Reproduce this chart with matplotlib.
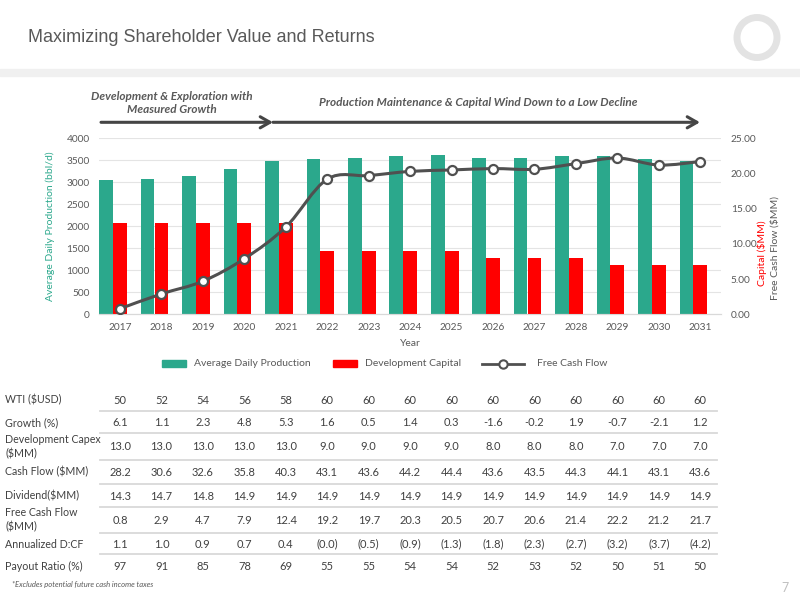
import numpy as np
import matplotlib
matplotlib.use("Agg")
import matplotlib.pyplot as plt
from matplotlib.path import Path
from matplotlib.patches import PathPatch, Circle, Rectangle, FancyArrowPatch
from matplotlib.lines import Line2D
from matplotlib import transforms

# ---- data ----
years = [2017, 2018, 2019, 2020, 2021, 2022, 2023, 2024, 2025, 2026, 2027, 2028, 2029, 2030, 2031]
production = [3050, 3080, 3150, 3295, 3475, 3535, 3550, 3600, 3620, 3560, 3550, 3600, 3600, 3520, 3490]
dev_capital = [13.0, 13.0, 13.0, 13.0, 13.0, 9.0, 9.0, 9.0, 9.0, 8.0, 8.0, 8.0, 7.0, 7.0, 7.0]
free_cash_flow = [0.8, 2.9, 4.7, 7.9, 12.4, 19.2, 19.7, 20.3, 20.5, 20.7, 20.6, 21.4, 22.2, 21.2, 21.7]

wti = [50, 52, 54, 56, 58, 60, 60, 60, 60, 60, 60, 60, 60, 60, 60]
growth = [6.1, 1.1, 2.3, 4.8, 5.3, 1.6, 0.5, 1.4, 0.3, -1.6, -0.2, 1.9, -0.7, -2.1, 1.2]
cash_flow = [28.2, 30.6, 32.6, 35.8, 40.3, 43.1, 43.6, 44.2, 44.4, 43.6, 43.5, 44.3, 44.1, 43.1, 43.6]
dividend = [14.3, 14.7, 14.8, 14.9, 14.9, 14.9, 14.9, 14.9, 14.9, 14.9, 14.9, 14.9, 14.9, 14.9, 14.9]
d_to_cf = [1.1, 1.0, 0.9, 0.7, 0.4, -0.0, -0.5, -0.9, -1.3, -1.8, -2.3, -2.7, -3.2, -3.7, -4.2]
payout = [97, 91, 85, 78, 69, 55, 55, 54, 54, 52, 53, 52, 50, 51, 50]

left_ticks = [0, 500, 1000, 1500, 2000, 2500, 3000, 3500, 4000]
right_ticks = [0, 5, 10, 15, 20, 25]

TEAL = "#2BA88C"
RED = "#FF0000"
GREY = "#595959"
DARK = "#404040"
LINE = "#505050"

plt.rcParams["font.family"] = ["Lato", "DejaVu Sans"]

W, H = 800, 600
fig = plt.figure(figsize=(8, 6), dpi=100)


def fx(px):
    return px / W


def fy(py):
    return 1 - py / H


# header band, title and logo ring
fig.patches.append(Rectangle((0, fy(76)), 1, fy(69) - fy(76), transform=fig.transFigure,
                             color="#F0F0F0", zorder=0))
fig.text(fx(28), fy(42), "Maximizing Shareholder Value and Returns", fontsize=13,
         color=GREY, family=["Liberation Sans", "DejaVu Sans"], va="baseline")
fig.patches.append(Circle((7.57, 6 - 0.375), 0.20, transform=fig.dpi_scale_trans,
                          fill=False, ec="#E3E3E3", lw=5))

# chart axes
x = np.arange(len(years))
ax = fig.add_axes([fx(99.3), fy(314.3), fx(721) - fx(99.3), fy(138.3) - fy(314.3)])
ax2 = ax.twinx()

ax.bar(x - 0.335, production, width=0.33, color=TEAL, zorder=2)
ax2.bar(x, dev_capital, width=0.335, color=RED, zorder=2)

# smoothed free cash flow line (cubic bezier through the points)
pts = np.column_stack([x, free_cash_flow]).astype(float)
verts = [pts[0]]
codes = [Path.MOVETO]
for i in range(len(pts) - 1):
    p0 = pts[max(i - 1, 0)]
    p1 = pts[i]
    p2 = pts[i + 1]
    p3 = pts[min(i + 2, len(pts) - 1)]
    verts += [p1 + (p2 - p0) / 6, p2 - (p3 - p1) / 6, p2]
    codes += [Path.CURVE4] * 3
ax2.add_patch(PathPatch(Path(verts, codes), fill=False, ec=LINE, lw=2.2, zorder=3))
ax2.plot(x, free_cash_flow, ls="none", marker="o", ms=6.5, mfc="white", mec=LINE,
         mew=1.6, zorder=4)

ax.set_xlim(-0.5, len(years) - 0.5)
ax.set_ylim(0, 4000)
ax2.set_ylim(0, 25)
ax.set_yticks(left_ticks)
ax2.set_yticks(right_ticks)
ax2.set_yticklabels([f"{t:.2f}" for t in right_ticks])
ax.set_xticks(x)
ax.set_xticklabels([str(y) for y in years])
ax.grid(axis="y", color="#E4E4E4", lw=0.8, zorder=0)
ax.set_axisbelow(True)
for a in (ax, ax2):
    for s in ("top", "left", "right"):
        a.spines[s].set_visible(False)
    a.spines["bottom"].set_color("#D9D9D9")
    a.tick_params(length=0, labelsize=7.3, labelcolor=GREY)
ax.tick_params(axis="y", pad=7)
ax.tick_params(axis="x", pad=6)
ax2.tick_params(axis="y", pad=7)

ax.set_ylabel("Average Daily Production (bbl/d)", color=TEAL, fontsize=7.5)
ax.yaxis.set_label_coords(-0.071, 0.5)
ax.set_xlabel("Year", color=GREY, fontsize=7.5, labelpad=5)
fig.text(fx(762), fy(253), "Capital ($MM)", rotation=90, color=RED, fontsize=7.5,
         ha="center", va="center")
fig.text(fx(775), fy(248), "Free Cash Flow ($MM)", rotation=90, color=GREY, fontsize=7.5,
         ha="center", va="center")

# phase annotations and arrows
fig.text(fx(172), fy(103), "Development & Exploration with\nMeasured Growth", ha="center",
         va="center", fontsize=8.5, color=GREY, style="italic", weight="bold", linespacing=1.25)
fig.text(fx(478), fy(103), "Production Maintenance & Capital Wind Down to a Low Decline",
         ha="center", va="center", fontsize=8.5, color=GREY, style="italic", weight="bold")
for x0, x1 in [(101, 273), (273, 700)]:
    fig.patches.append(FancyArrowPatch(
        (fx(x0), fy(122.3)), (fx(x1), fy(122.3)), transform=fig.transFigure,
        arrowstyle="->,head_length=7,head_width=4", color="#454545", lw=2.2,
        mutation_scale=1, shrinkA=0, shrinkB=0))

# legend drawn by hand to match the slide spacing
ly = fy(363.5)
fig.patches.append(Rectangle((fx(162), ly - 3.5 / H), 24 / W, 7 / H, transform=fig.transFigure,
                             color=TEAL))
fig.text(fx(194), ly, "Average Daily Production", fontsize=7.5, color=GREY, va="center")
fig.patches.append(Rectangle((fx(333), ly - 3.5 / H), 24 / W, 7 / H, transform=fig.transFigure,
                             color=RED))
fig.text(fx(365), ly, "Development Capital", fontsize=7.5, color=GREY, va="center")
fig.add_artist(Line2D([fx(482), fx(524)], [ly, ly], transform=fig.transFigure, color=LINE, lw=2))
fig.add_artist(Line2D([fx(503)], [ly], transform=fig.transFigure, marker="o", ms=6,
                      mfc="white", mec=LINE, mew=1.5))
fig.text(fx(537), ly, "Free Cash Flow", fontsize=7.5, color=GREY, va="center")


# table
def fmt1(v):
    return f"{v:.1f}"


def fmt_paren(v):
    if np.signbit(v):
        return f"({abs(v):.1f})"
    return f"{v:.1f}"


rows = [
    ("WTI ($USD)", [str(v) for v in wti], 400),
    ("Growth (%)", [fmt1(v) for v in growth], 423),
    ("Development Capex\n($MM)", [fmt1(v) for v in dev_capital], 447),
    ("Cash Flow ($MM)", [fmt1(v) for v in cash_flow], 472),
    ("Dividend($MM)", [fmt1(v) for v in dividend], 496),
    ("Free Cash Flow\n($MM)", [fmt1(v) for v in free_cash_flow], 520),
    ("Annualized D:CF", [fmt_paren(v) for v in d_to_cf], 544),
    ("Payout Ratio (%)", [str(v) for v in payout], 566),
]
sep_lines = [410.7, 433, 460, 484, 507, 533, 554]

blend = transforms.blended_transform_factory(ax.transData, fig.transFigure)
for label, vals, py in rows:
    fig.text(fx(5), fy(py), label, ha="left", va="center", fontsize=7.7, color=DARK,
             linespacing=1.35)
    for i, s in enumerate(vals):
        ax.text(x[i], fy(py), s, transform=blend, ha="center", va="center", fontsize=8,
                color=DARK, clip_on=False)
for py in sep_lines:
    fig.add_artist(Line2D([fx(100), fx(717)], [fy(py), fy(py)], transform=fig.transFigure,
                          color="#D9D9D9", lw=1.3))

fig.text(fx(12), fy(584), "*Excludes potential future cash income taxes", fontsize=5.5,
         color=GREY, style="italic", va="center")
fig.text(fx(785), fy(588), "7", fontsize=9, color="#C0C0C0", ha="center", va="center")

fig.savefig("out.png", dpi=100)
